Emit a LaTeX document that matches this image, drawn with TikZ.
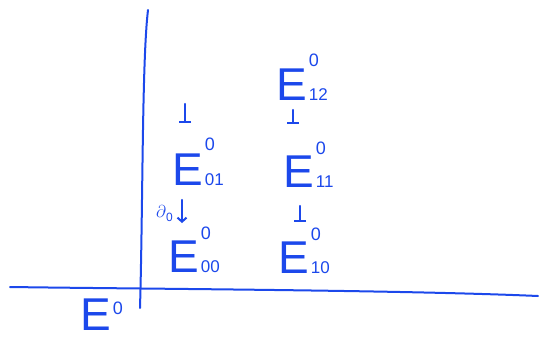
\documentclass[tikz,border=0pt]{standalone}
\usepackage{fontspec}
\setmainfont{Liberation Sans}
\usetikzlibrary{arrows.meta}
\definecolor{handblue}{RGB}{28,72,235}
\newcommand{\Esym}[3]{{\fontsize{46}{46}\selectfont E}\hspace{2pt}\makebox[0pt][l]{\raisebox{#3}{\fontsize{18}{18}\selectfont #1}}{\fontsize{17}{17}\selectfont #2}}
\tikzset{
  term/.style={anchor=base west, inner sep=0pt, text=handblue},
  axis/.style={draw=handblue, line width=2pt, line cap=round},
  bararr/.style={draw=handblue, line width=2.4pt, line cap=round, -{Bar[width=12pt, line width=2.4pt]}},
  arr/.style={draw=handblue, line width=2.4pt, line cap=round, -{Straight Barb[length=4pt, width=9pt, line width=2pt]}},
}
\begin{document}
\begin{tikzpicture}[x=1pt, y=-1pt]
\useasboundingbox (0,0) rectangle (540,340);
% axes
\coordinate (vtop) at (148,10);
\coordinate (vbot) at (140,308);
\coordinate (hleft) at (10,287);
\coordinate (hright) at (538,296);
\draw[axis] (vtop) .. controls (142,60) and (143,200) .. (vbot);
\draw[axis] (hleft) .. controls (150,289) and (400,290) .. (hright);
% terms
\node[term] (e12) at (276,100) {\Esym{0}{12}{34pt}};
\node[term] (e01) at (172,185) {\Esym{0}{01}{35pt}};
\node[term] (e11) at (283,187) {\Esym{0}{11}{33pt}};
\node[term] (e00) at (168,272) {\Esym{0}{00}{33pt}};
\node[term] (e10) at (278,273) {\Esym{0}{10}{33pt}};
\node[term] (e0) at (80,330) {\Esym{0}{}{16pt}};
% arrows
\coordinate (a1s) at (185,104);
\coordinate (a1e) at (185,123);
\coordinate (a2s) at (293,110);
\coordinate (a2e) at (293,124);
\coordinate (a3s) at (182,200);
\coordinate (a3e) at (182,223);
\coordinate (a4s) at (300,206);
\coordinate (a4e) at (300,222);
\draw[bararr] (a1s) -- (a1e);
\draw[bararr] (a2s) -- (a2e);
\draw[arr] (a3s) -- (a3e);
\draw[bararr] (a4s) -- (a4e);
\node[term, text=handblue] (d0) at (156,217) {\fontsize{18}{18}\selectfont$\partial$\raisebox{-4pt}{\fontsize{12}{12}\selectfont 0}};
\end{tikzpicture}
\end{document}
